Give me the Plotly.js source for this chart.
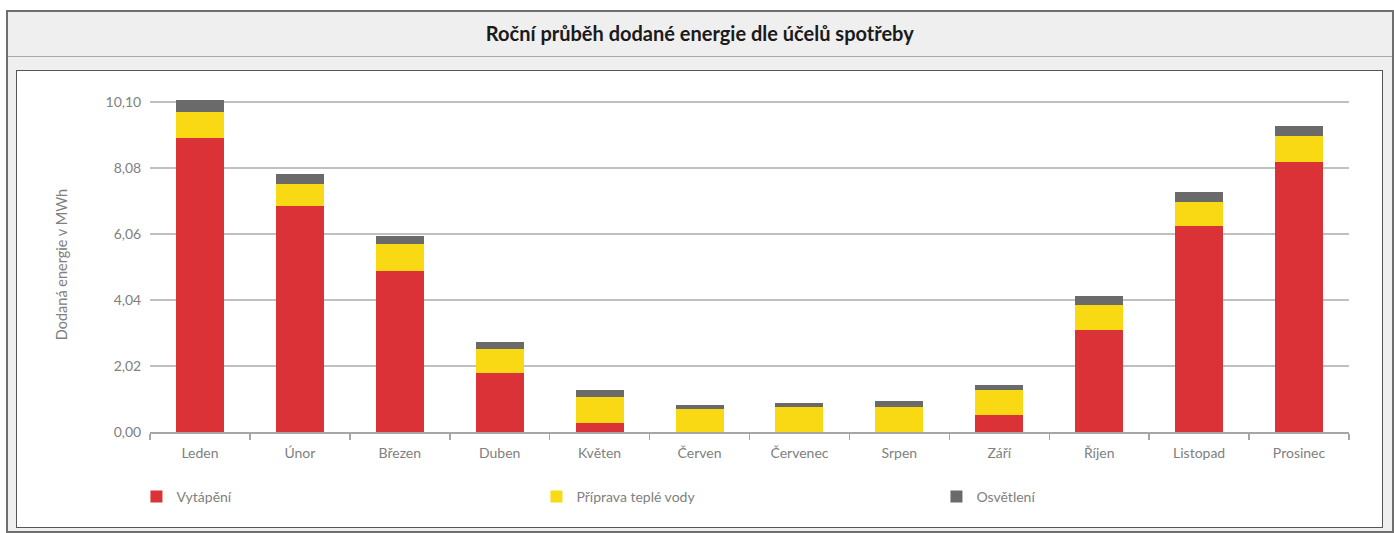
<!DOCTYPE html>
<html>
<head>
<meta charset="utf-8">
<script src="https://cdn.plot.ly/plotly-3.0.1.min.js"></script>
<style>
  html, body { margin: 0; padding: 0; background: #ffffff; }
  #wrap { position: relative; width: 1394px; height: 533px; overflow: hidden; }
  #outer { position: absolute; left: 6px; top: 10px; width: 1384px; height: 519px;
           border: 2px solid #6e6e6e; background: #efefef; }
  #band { position: absolute; left: 8px; top: 56px; width: 1384px; height: 0;
          border-top: 1px solid #a9a9a9; }
  #inner { position: absolute; left: 16px; top: 70px; width: 1365px; height: 456px;
           border: 1px solid #555555; background: #ffffff; }
  #chart { position: absolute; left: 0; top: 0; width: 1394px; height: 533px; }
</style>
</head>
<body>
<div id="wrap">
  <div id="outer"></div>
  <div id="band"></div>
  <div id="inner"></div>
  <div id="chart"></div>
</div>
<script>
const months = ["Leden","Únor","Březen","Duben","Květen","Červen","Červenec","Srpen","Září","Říjen","Listopad","Prosinec"];
const heating = [8.99, 6.90, 4.94, 1.82, 0.29, 0.00, 0.00, 0.00, 0.53, 3.11, 6.29, 8.25];
const hotWater = [0.80, 0.68, 0.80, 0.73, 0.79, 0.71, 0.78, 0.78, 0.74, 0.79, 0.74, 0.80];
const lighting = [0.36, 0.31, 0.25, 0.19, 0.19, 0.13, 0.12, 0.18, 0.18, 0.25, 0.30, 0.31];
const seriesNames = ["Vytápění", "Příprava teplé vody", "Osvětlení"];
const yTicks = [0, 2.02, 4.04, 6.06, 8.08, 10.10];

const font = "Lato, 'Open Sans', sans-serif";
const colors = ["#da3236", "#f8d913", "#6a6a6a"];
const data = [heating, hotWater, lighting].map((vals, i) => ({
  type: "bar",
  x: months,
  y: vals,
  name: seriesNames[i],
  marker: { color: colors[i], line: { width: 0 } },
  width: 0.48,
  hoverinfo: "x+y+name"
}));

const layout = {
  width: 1394,
  height: 533,
  barmode: "stack",
  paper_bgcolor: "rgba(0,0,0,0)",
  plot_bgcolor: "rgba(0,0,0,0)",
  separators: ", ",
  margin: { l: 150, r: 45, t: 97, b: 101, pad: 0 },
  title: {
    text: "<b>Roční průběh dodané energie dle účelů spotřeby</b>",
    font: { family: font, size: 20, color: "#1a1a1a" },
    x: 0.502, xref: "container", xanchor: "center",
    y: 1 - 34 / 533, yref: "container", yanchor: "middle"
  },
  font: { family: font, size: 14, color: "#808080" },
  xaxis: {
    type: "category",
    showgrid: false,
    showline: true,
    linecolor: "#a6a6a6",
    linewidth: 1.5,
    ticks: "outside",
    tickson: "boundaries",
    ticklen: 6,
    tickcolor: "#a6a6a6",
    tickwidth: 1.5,
    ticklabelstandoff: 8,
    tickfont: { family: font, size: 14, color: "#808080" },
    fixedrange: true
  },
  yaxis: {
    range: [0, 10.25],
    tickvals: yTicks,
    tickformat: ".2f",
    showgrid: true,
    gridcolor: "#c0c0c0",
    gridwidth: 1.5,
    zeroline: false,
    showline: false,
    ticks: "outside",
    ticklen: 5,
    tickcolor: "rgba(0,0,0,0)",
    tickfont: { family: font, size: 14, color: "#808080" },
    title: { text: "Dodaná energie v MWh", font: { family: font, size: 14.5, color: "#808080" }, standoff: 34 },
    fixedrange: true
  },
  legend: {
    orientation: "h",
    x: -0.0113,
    xanchor: "left",
    y: (432 - 497) / 335,
    yanchor: "middle",
    entrywidth: 355,
    entrywidthmode: "pixels",
    traceorder: "normal",
    font: { family: font, size: 14, color: "#808080" },
    bgcolor: "rgba(0,0,0,0)"
  },
  showlegend: true
};

Plotly.newPlot("chart", data, layout, { displayModeBar: false, staticPlot: true });
</script>
</body>
</html>
